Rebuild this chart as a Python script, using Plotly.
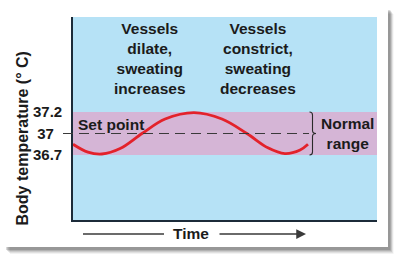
import numpy as np
import plotly.graph_objects as go

# ---- data ----
tick_temps = [36.7, 37.0, 37.2]            # labelled temperatures (°C)
tick_labels = ["36.7", "37\u00a0\u00a0", "37.2"]
set_point = 37.0
normal_low, normal_high = 36.7, 37.2

time_vals = [0.0, 0.49, 0.95, 1.55, 2.27, 3.03, 3.98, 4.90, 5.72, 6.41, 6.97, 7.47, 7.73]
body_temp = [36.85, 36.74, 36.714, 36.79, 37.0, 37.135, 37.195, 37.135, 37.0, 36.80, 36.72, 36.77, 36.85]

panel_text_left = "Vessels<br>dilate,<br>sweating<br>increases"
panel_text_right = "Vessels<br>constrict,<br>sweating<br>decreases"

# schematic (evenly spaced) temperature axis used in the illustration
def ypos(t):
    return np.interp(t, tick_temps, [0, 1, 2])

# ---- layout geometry helpers ----
L, R, T, B = 73, 23, 17, 52
W, H = 400, 272
PW, PH = W - L - R, H - T - B
def px(x):
    return (x - L) / PW
def py(y):
    return (H - B - y) / PH

FONT = "Liberation Sans, Arial, Helvetica, sans-serif"
TXT = "#1b1b1b"

fig = go.Figure()
fig.add_trace(go.Scatter(
    x=time_vals, y=ypos(body_temp), mode="lines",
    line=dict(color="#e3222b", width=2.8, shape="spline", smoothing=1.0),
    hoverinfo="skip", showlegend=False))

shapes = []
# drop shadow of the card
for off, op in [(7, 0.05), (6, 0.07), (5, 0.09), (4, 0.12), (3, 0.15)]:
    shapes.append(dict(type="rect", xref="paper", yref="paper",
                       x0=px(3 + off), x1=px(388 + off * 0.8), y0=py(247 + off), y1=py(3 + off + 4),
                       fillcolor="black", opacity=op, line_width=0, layer="below"))
# card
shapes.append(dict(type="rect", xref="paper", yref="paper",
                   x0=px(3), x1=px(388), y0=py(247), y1=py(3),
                   fillcolor="white", line_width=0, layer="below"))
# plot background
shapes.append(dict(type="rect", xref="paper", yref="paper", x0=0, x1=1, y0=0, y1=1,
                   fillcolor="#b6e2f6", line_width=0, layer="below"))
# normal range band
shapes.append(dict(type="rect", xref="paper", yref="y", x0=0, x1=1,
                   y0=float(ypos(normal_low)), y1=float(ypos(normal_high)),
                   fillcolor="#d5b5d6", line_width=0, layer="below"))
# set point dashed line
sp = float(ypos(set_point))
shapes.append(dict(type="line", xref="paper", yref="y", x0=px(63), x1=px(309), y0=sp, y1=sp,
                   line=dict(color="#3a3a3a", width=1.2, dash="10px,6px"), layer="above"))
# brace
lo, hi = float(ypos(normal_low)), float(ypos(normal_high))
dy = 0.14
xa, xb, xc = px(309.5), px(312.5), px(316)
brace = (f"M {xa},{hi} Q {xb},{hi} {xb},{hi - dy} L {xb},{sp + dy} "
         f"Q {xb},{sp} {xc},{sp} Q {xb},{sp} {xb},{sp - dy} "
         f"L {xb},{lo + dy} Q {xb},{lo} {xa},{lo}")
shapes.append(dict(type="path", xref="paper", yref="y", path=brace,
                   line=dict(color="#2a2a2a", width=1.1), layer="above"))
# time arrow (left segment)
shapes.append(dict(type="line", xref="paper", yref="paper", x0=px(83), x1=px(164),
                   y0=py(234), y1=py(234), line=dict(color="#3a3a3a", width=1.5)))

def note(text, x, y, size=15.5, **kw):
    d = dict(text=text, x=px(x), y=py(y), xref="paper", yref="paper", showarrow=False,
             xanchor="center", yanchor="middle", align="center",
             font=dict(size=size, color=TXT, family=FONT))
    d.update(kw)
    return d

annotations = [
    note(f"<b>{panel_text_left}</b>", 150, 58.5),
    note(f"<b>{panel_text_right}</b>", 258, 58.5),
    note("<b>Set point</b>", 76, 124, xanchor="left"),
    note("<b>Normal<br>range</b>", 347, 133.5),
    note("<b>Body temperature (° C)</b>", 21.5, 139, size=16, textangle=-90),
    note("<b>Time</b>", 190.5, 234),
    dict(text="", x=px(306), y=py(234), xref="paper", yref="paper",
         showarrow=True, ax=-88, ay=0, axref="pixel", ayref="pixel",
         arrowhead=2, arrowsize=1.3, arrowwidth=1.5, arrowcolor="#3a3a3a"),
]

fig.update_layout(
    width=W, height=H, margin=dict(l=L, r=R, t=T, b=B),
    paper_bgcolor="white", plot_bgcolor="rgba(0,0,0,0)",
    shapes=shapes, annotations=annotations, showlegend=False,
    font=dict(family=FONT, color=TXT),
    xaxis=dict(range=[0, 10], showticklabels=False, ticks="", showgrid=False, zeroline=False,
               showline=True, linecolor="#1c2b39", linewidth=1.6, fixedrange=True),
    yaxis=dict(range=[(155 - 220) / 21.5, (155 - 17) / 21.5], tickvals=list(ypos(tick_temps)),
               ticktext=[f"<b>{t}</b>" for t in tick_labels], ticks="", showgrid=False,
               zeroline=False, showline=True, linecolor="#1c2b39", linewidth=1.6,
               tickfont=dict(size=15, color=TXT, family=FONT), ticklabelstandoff=6,
               fixedrange=True),
)

fig.write_html("out.html")
